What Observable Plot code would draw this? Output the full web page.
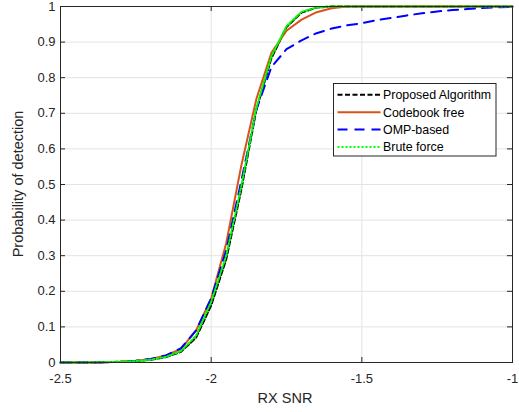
<!DOCTYPE html>
<html><head><meta charset="utf-8">
<script src="https://cdn.jsdelivr.net/npm/d3@7"></script>
<script src="https://cdn.jsdelivr.net/npm/@observablehq/plot@0.6"></script>
<style>body{margin:0;background:#fff} #chart{width:519px;height:412px}</style>
</head><body><div id="chart"></div>
<script>
const snr = [-2.5,-2.45,-2.4,-2.35,-2.3,-2.25,-2.2,-2.15,-2.1,-2.05,-2.0,-1.95,-1.9,-1.85,-1.8,-1.75,-1.7,-1.65,-1.6,-1.55,-1.5,-1.45,-1.4,-1.35,-1.3,-1.25,-1.2,-1.15,-1.1,-1.05,-1.0];
const proposed = [0,0,0,0.001,0.002,0.004,0.008,0.015,0.03,0.07,0.16,0.29,0.485,0.71,0.855,0.942,0.983,0.997,1,1,1,1,1,1,1,1,1,1,1,1,1];
const codebookFree = [0,0,0,0.001,0.002,0.005,0.01,0.02,0.038,0.09,0.18,0.335,0.553,0.74,0.87,0.932,0.963,0.984,0.995,1,1,1,1,1,1,1,1,1,1,1,1];
const ompBased = [0,0,0,0.001,0.002,0.005,0.01,0.02,0.04,0.09,0.18,0.315,0.51,0.71,0.83,0.88,0.905,0.925,0.938,0.947,0.953,0.962,0.968,0.975,0.981,0.986,0.99,0.993,0.996,0.998,0.999];
const bruteForce = [0,0,0,0.001,0.002,0.004,0.008,0.016,0.032,0.075,0.17,0.30,0.495,0.715,0.86,0.945,0.985,0.997,1,1,1,1,1,1,1,1,1,1,1,1,1];

const seriesNames = ["Proposed Algorithm","Codebook free","OMP-based","Brute force"];
const seriesValues = [proposed, codebookFree, ompBased, bruteForce];
const seriesColors = ["#000000","#D95319","#0000FF","#00FF00"];
const seriesDash = ["5,2.5","none","10,7","2,2"];

const xTicks = [-2.5,-2,-1.5,-1];
const xTickLabels = ["-2.5","-2","-1.5","-1"];
const yTicks = [0,0.1,0.2,0.3,0.4,0.5,0.6,0.7,0.8,0.9,1];
const yTickLabels = ["0","0.1","0.2","0.3","0.4","0.5","0.6","0.7","0.8","0.9","1"];
const xLabel = "RX SNR";
const yLabel = "Probability of detection";

const W = 519, H = 412, mL = 60, mR = 7, mT = 6, mB = 50;
const fw = W - mL - mR, fh = H - mT - mB;
const font = "'Liberation Sans', Arial, Helvetica, sans-serif";
const axisColor = "#262626";

const rows = [];
seriesNames.forEach((name, i) => snr.forEach((x, j) => rows.push({series: name, x, y: seriesValues[i][j]})));

const lineMarks = seriesNames.map((name, i) =>
  Plot.line(rows.filter(r => r.series === name), {
    x: "x", y: "y", stroke: seriesColors[i], strokeWidth: 2,
    strokeDasharray: seriesDash[i] === "none" ? undefined : seriesDash[i]
  })
);

const plot = Plot.plot({
  width: W, height: H, marginLeft: mL, marginRight: mR, marginTop: mT, marginBottom: mB,
  style: {fontFamily: font, background: "white"},
  x: {domain: [-2.5, -1]},
  y: {domain: [0, 1]},
  marks: [
    Plot.gridX(xTicks, {stroke: "#e3e3e3", strokeOpacity: 1}),
    Plot.gridY(yTicks, {stroke: "#e3e3e3", strokeOpacity: 1}),
    Plot.ruleX(xTicks, {insetTop: fh - 5, stroke: axisColor}),
    Plot.ruleX(xTicks, {insetBottom: fh - 5, stroke: axisColor}),
    Plot.ruleY(yTicks, {insetRight: fw - 5, stroke: axisColor}),
    Plot.ruleY(yTicks, {insetLeft: fw - 5, stroke: axisColor}),
    Plot.axisX(xTicks, {tickSize: 0, tickPadding: 11, fontSize: 13, fill: axisColor, label: null,
      tickFormat: d => xTickLabels[xTicks.indexOf(d)]}),
    Plot.axisY(yTicks, {tickSize: 0, tickPadding: 5, fontSize: 13, fill: axisColor, label: null,
      tickFormat: d => yTickLabels[yTicks.indexOf(d)]}),
    ...lineMarks,
    Plot.frame({stroke: axisColor})
  ]
});

const svg = d3.select(plot);
svg.append("text").attr("x", mL + fw / 2 - 1).attr("y", 403).attr("text-anchor", "middle")
  .attr("font-size", 14.5).attr("font-family", font).attr("fill", axisColor).text(xLabel);
svg.append("text").attr("transform", `translate(23,${mT + fh / 2}) rotate(-90)`).attr("text-anchor", "middle")
  .attr("font-size", 14.5).attr("font-family", font).attr("fill", axisColor).text(yLabel);

// legend
const lg = svg.append("g").attr("text-anchor", "start");
const lx = 333.5, ly = 83.5, lw = 162.5, lh = 72.5;
lg.append("rect").attr("x", lx).attr("y", ly).attr("width", lw).attr("height", lh)
  .attr("fill", "white").attr("stroke", axisColor).attr("stroke-width", 1);
seriesNames.forEach((name, i) => {
  const yy = ly + 11.3 + i * 17.4;
  const ln = lg.append("line").attr("x1", lx + 4).attr("x2", lx + 47).attr("y1", yy).attr("y2", yy)
    .attr("stroke", seriesColors[i]).attr("stroke-width", 2);
  if (seriesDash[i] !== "none") ln.attr("stroke-dasharray", seriesDash[i]);
  lg.append("text").attr("x", lx + 49.5).attr("y", yy).attr("dy", "0.35em").attr("text-anchor", "start")
    .attr("font-size", 12.4).attr("font-family", font).attr("fill", "#000").text(name);
});

document.getElementById("chart").appendChild(plot);
</script></body></html>
